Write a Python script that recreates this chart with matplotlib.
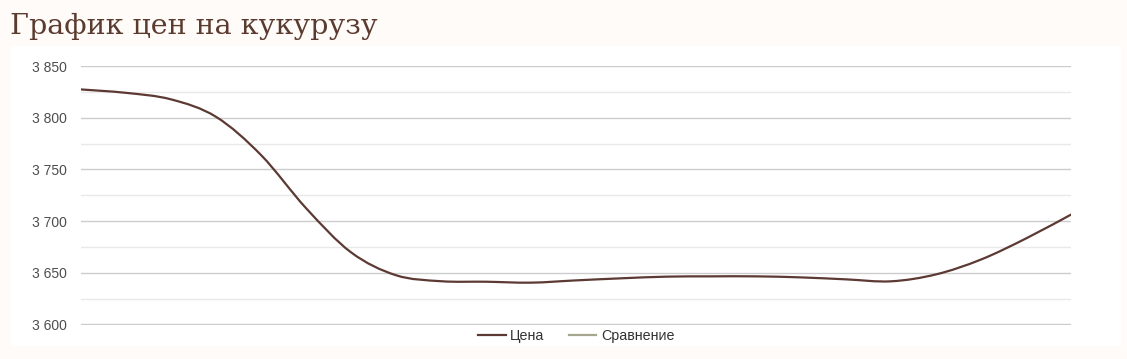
import matplotlib
matplotlib.use("Agg")
import matplotlib.pyplot as plt
from matplotlib.path import Path
from matplotlib.patches import PathPatch
from matplotlib.ticker import MultipleLocator, FuncFormatter
from matplotlib.lines import Line2D

# ---- data ----
positions = list(range(23))
price = [3827.5, 3824.2, 3817.9, 3801.0, 3764.0, 3712.6, 3669.8, 3647.6,
         3641.8, 3641.3, 3640.4, 3642.6, 3644.6, 3646.2, 3646.5, 3646.5,
         3645.5, 3643.6, 3641.7, 3648.4, 3662.8, 3683.2, 3706.3]
comparison = []
y_ticks = [3600, 3650, 3700, 3750, 3800, 3850]
series_names = ["Цена", "Сравнение"]
title = "График цен на кукурузу"

BG = "#fffbf8"
PRICE_C = "#5c3a33"
COMP_C = "#a6a68e"

W, H = 1127, 359
fig = plt.figure(figsize=(W / 100, H / 100), dpi=100, facecolor=BG)

# white panel
panel = fig.add_axes([11 / W, 1 - 346 / H, (1121 - 11) / W, (346 - 46) / H])
panel.set_facecolor("white")
panel.set_xticks([])
panel.set_yticks([])
for s in panel.spines.values():
    s.set_visible(False)
panel.set_zorder(0)

fig.text(10 / W, 1 - 34 / H, title, family="DejaVu Serif", fontsize=20.5,
         color="#5b3b30", ha="left", va="baseline")

ax = fig.add_axes([81 / W, 1 - 325 / H, (1071 - 81) / W, (325 - 66) / H])
ax.set_zorder(1)
ax.patch.set_visible(False)
ax.set_xlim(positions[0], positions[-1])
ax.set_ylim(y_ticks[0] - 0.6, y_ticks[-1] + 0.2)
ax.set_yticks(y_ticks)
ax.yaxis.set_minor_locator(MultipleLocator(25))
ax.yaxis.set_major_formatter(FuncFormatter(lambda v, p: f"{int(v):,}".replace(",", " ")))
ax.set_xticks([])
ax.grid(True, axis="y", which="major", color="#cccccc", linewidth=1.0)
ax.grid(True, axis="y", which="minor", color="#e9e9e9", linewidth=1.0)
for s in ax.spines.values():
    s.set_visible(False)
ax.tick_params(axis="y", which="both", length=0, pad=10.5, labelsize=10,
               labelcolor="#4d4d4d")
for lbl in ax.get_yticklabels():
    lbl.set_family("Liberation Sans")
ax.set_axisbelow(True)

# smooth (Catmull-Rom) bezier through the data points
n = len(price)
verts = [(positions[0], price[0])]
codes = [Path.MOVETO]
k = 1.0 / 6.0
for i in range(n - 1):
    i0, i3 = max(i - 1, 0), min(i + 2, n - 1)
    x0, y0 = positions[i0], price[i0]
    x1, y1 = positions[i], price[i]
    x2, y2 = positions[i + 1], price[i + 1]
    x3, y3 = positions[i3], price[i3]
    c1 = (x1 + (x2 - x0) * k, y1 + (y2 - y0) * k)
    c2 = (x2 - (x3 - x1) * k, y2 - (y3 - y1) * k)
    verts += [c1, c2, (x2, y2)]
    codes += [Path.CURVE4] * 3
ax.add_patch(PathPatch(Path(verts, codes), facecolor="none", edgecolor=PRICE_C,
                       linewidth=1.6, capstyle="round", joinstyle="round", zorder=3))

ax.plot(range(len(comparison)), comparison, color=COMP_C, linewidth=1.6)

handles = [Line2D([], [], color=PRICE_C, linewidth=1.6),
           Line2D([], [], color=COMP_C, linewidth=1.6)]
leg = fig.legend(handles, series_names, loc="center", ncol=2,
                 bbox_to_anchor=(576 / W, 1 - 336 / H), frameon=False,
                 prop={"family": "Liberation Sans", "size": 10.3},
                 handlelength=1.95, handletextpad=0.3, columnspacing=1.7,
                 labelcolor="#333333")
leg.set_zorder(5)

fig.savefig("out.png", dpi=100, facecolor=BG)
